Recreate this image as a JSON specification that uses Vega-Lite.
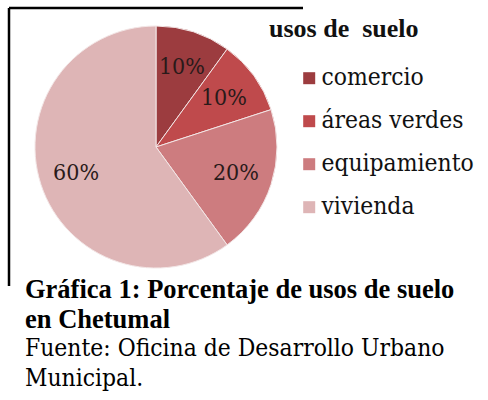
{
  "$schema": "https://vega.github.io/schema/vega-lite/v6.json",
  "autosize": {"type": "none"},
  "width": 294,
  "height": 278,
  "padding": {"left": 9, "top": 8, "right": 185, "bottom": 114},
  "background": "white",
  "view": {"stroke": "black", "strokeWidth": 2.5, "strokeDash": [294, 572, 278, 0]},
  "config": {
    "font": "DejaVu Serif Condensed"
  },
  "title": {
    "text": ["Gráfica 1: Porcentaje de usos de suelo", "en Chetumal"],
    "subtitle": ["Fuente: Oficina de Desarrollo Urbano", "Municipal."],
    "orient": "bottom",
    "anchor": "start",
    "frame": "group",
    "dx": 16,
    "offset": -9,
    "font": "Liberation Serif",
    "fontSize": 26.5,
    "fontWeight": "bold",
    "color": "black",
    "lineHeight": 30,
    "subtitleFont": "DejaVu Serif Condensed",
    "subtitleFontSize": 24.4,
    "subtitleColor": "black",
    "subtitleLineHeight": 30,
    "subtitlePadding": 3
  },
  "data": {
    "values": [
      {"uso": "comercio", "porcentaje": 0.1, "orden": 1},
      {"uso": "áreas verdes", "porcentaje": 0.1, "orden": 2},
      {"uso": "equipamiento", "porcentaje": 0.2, "orden": 3},
      {"uso": "vivienda", "porcentaje": 0.6, "orden": 4}
    ]
  },
  "encoding": {
    "theta": {"field": "porcentaje", "type": "quantitative", "stack": true},
    "order": {"field": "orden", "type": "quantitative"}
  },
  "layer": [
    {
      "mark": {"type": "arc", "outerRadius": 121, "stroke": "#f3e6e6", "strokeWidth": 1},
      "encoding": {
        "color": {
          "field": "uso",
          "type": "nominal",
          "scale": {
            "domain": ["comercio", "áreas verdes", "equipamiento", "vivienda"],
            "range": ["#9c3c3f", "#bf4a4c", "#cd7c7f", "#deb5b6"]
          },
          "legend": {
            "orient": "right",
            "offset": -42,
            "padding": 8,
            "title": "usos de\u00a0 suelo",
            "titleFont": "Liberation Serif",
            "titleFontSize": 26,
            "titleFontWeight": "bold",
            "titleColor": "#111111",
            "labelFont": "DejaVu Serif Condensed",
            "labelFontSize": 24.4,
            "labelColor": "#111111",
            "labelLimit": 300,
            "symbolType": "square",
            "symbolSize": 144,
            "symbolStrokeWidth": 0,
            "symbolOpacity": 1,
            "symbolOffset": 28,
            "labelOffset": 0,
            "rowPadding": 18,
            "titlePadding": 24
          }
        }
      }
    },
    {
      "mark": {"type": "text", "radius": 84, "fontSize": 23, "font": "DejaVu Serif Condensed", "fill": "#2a1a1a"},
      "encoding": {
        "text": {"field": "porcentaje", "type": "quantitative", "format": ".0%"}
      }
    }
  ]
}
